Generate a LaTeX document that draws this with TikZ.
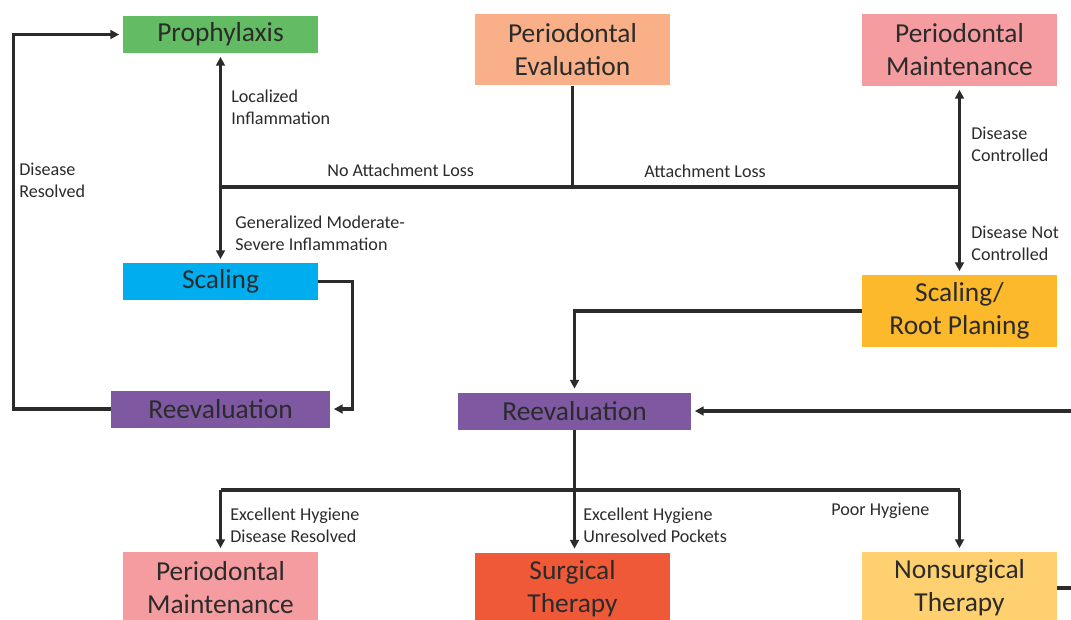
\documentclass[tikz,border=0pt]{standalone}
\usepackage{fontspec}
\setmainfont{Carlito}
\usetikzlibrary{positioning}
\usetikzlibrary{calc}
\usetikzlibrary{arrows.meta}

\definecolor{prophgreen}{HTML}{63BC64}
\definecolor{evalsalmon}{HTML}{F9AF87}
\definecolor{maintpink}{HTML}{F49CA0}
\definecolor{scalcyan}{HTML}{00ADEE}
\definecolor{srporange}{HTML}{FDB92C}
\definecolor{reevpurple}{HTML}{7F58A2}
\definecolor{surgred}{HTML}{EF5937}
\definecolor{nonsorange}{HTML}{FED070}
\definecolor{inkgray}{HTML}{2B2B2B}

\tikzset{
  box/.style={minimum width=3.9cm, minimum height=0.74cm, inner sep=0pt,
    align=center, text=inkgray, font=\fontsize{15.6}{18.7}\selectfont},
  tallbox/.style={box, minimum height=1.44cm},
  lbl/.style={anchor=west, align=left, inner sep=0pt, text=inkgray,
    font=\fontsize{10.3}{12.5}\selectfont},
  flow/.style={draw=inkgray, line width=1.8pt},
}

\begin{document}
\begin{tikzpicture}[x=0.02cm, y=-0.02cm, >={Triangle[length=5pt,width=5pt]}]
    \useasboundingbox (0,0) rectangle (1071,619);
    % boxes
    \node[box, fill=prophgreen] (proph) at (220.5,34.5) {Prophylaxis};
    \node[tallbox, fill=evalsalmon] (peval) at (572.5,49.5) {Periodontal\\Evaluation};
    \node[tallbox, fill=maintpink] (pmtop) at (959.5,50) {Periodontal\\Maintenance};
    \node[box, fill=scalcyan] (scal) at (220.5,281.5) {Scaling};
    \node[tallbox, fill=srporange] (srp) at (959.5,311) {Scaling/\\Root Planing};
    \node[box, fill=reevpurple, minimum width=4.38cm] (reevL) at (220.5,409) {Reevaluation};
    \node[box, fill=reevpurple, minimum width=4.66cm] (reevC) at (574.5,411) {Reevaluation};
    \node[tallbox, fill=maintpink] (pmbot) at (220.5,588) {Periodontal\\Maintenance};
    \node[tallbox, fill=surgred] (surg) at (572.5,588.5) {Surgical\\Therapy};
    \node[tallbox, fill=nonsorange] (nons) at (959.5,588) {Nonsurgical\\Therapy};
    % junctions and free ends
    \coordinate (jl) at (220.5,187);
    \coordinate (jr) at (959.5,187);
    \coordinate (jb) at (574.5,490);
    \coordinate (rin) at (1075,411);
    \coordinate (rout) at (1075,588);
    % connectors
    \draw[flow] (peval.south) -- (peval.south |- jl);
    \draw[flow] (jl) -- (jr);
    \draw[flow, ->, shorten >=2pt] (jl) -- (proph);
    \draw[flow, ->, shorten >=2pt] (jl) -- (scal);
    \draw[flow, ->, shorten >=2pt] (jr) -- (pmtop);
    \draw[flow, ->, shorten >=2pt] (jr) -- (srp);
    \draw[flow, ->, shorten >=2pt] (scal.east) -- ++(34,0) |- (reevL.east);
    \draw[flow, ->, shorten >=2pt] (reevL.west) -- ++(-97,0) |- (proph.west);
    \draw[flow, ->, shorten >=2pt] (srp.west) -| (reevC.north);
    \draw[flow, ->, shorten >=2pt] (rin) -- (reevC.east);
    \draw[flow] (reevC.south) -- (jb);
    \draw[flow] (pmbot.north |- jb) -- (nons.north |- jb);
    \draw[flow, ->, shorten >=2pt] (pmbot.north |- jb) -- (pmbot.north);
    \draw[flow, ->, shorten >=2pt] (jb) -- (jb |- surg.north);
    \draw[flow, ->, shorten >=2pt] (nons.north |- jb) -- (nons.north);
    \draw[flow] (nons.east) -- (rout);
    % labels
    \node[lbl] (loc) at (231,107) {Localized\\Inflammation};
    \node[lbl] (noatt) at (327,170) {No Attachment Loss};
    \node[lbl] (att) at (644,171) {Attachment Loss};
    \node[lbl] (disres) at (19,180) {Disease\\Resolved};
    \node[lbl] (gen) at (235,233) {Generalized Moderate-\\Severe Inflammation};
    \node[lbl] (dcont) at (971,144) {Disease\\Controlled};
    \node[lbl] (dnot) at (971,243) {Disease Not\\Controlled};
    \node[lbl] (exres) at (230,525) {Excellent Hygiene\\Disease Resolved};
    \node[lbl] (expock) at (583,525) {Excellent Hygiene\\Unresolved Pockets};
    \node[lbl] (poor) at (831,511) {Poor Hygiene};
\end{tikzpicture}
\end{document}
